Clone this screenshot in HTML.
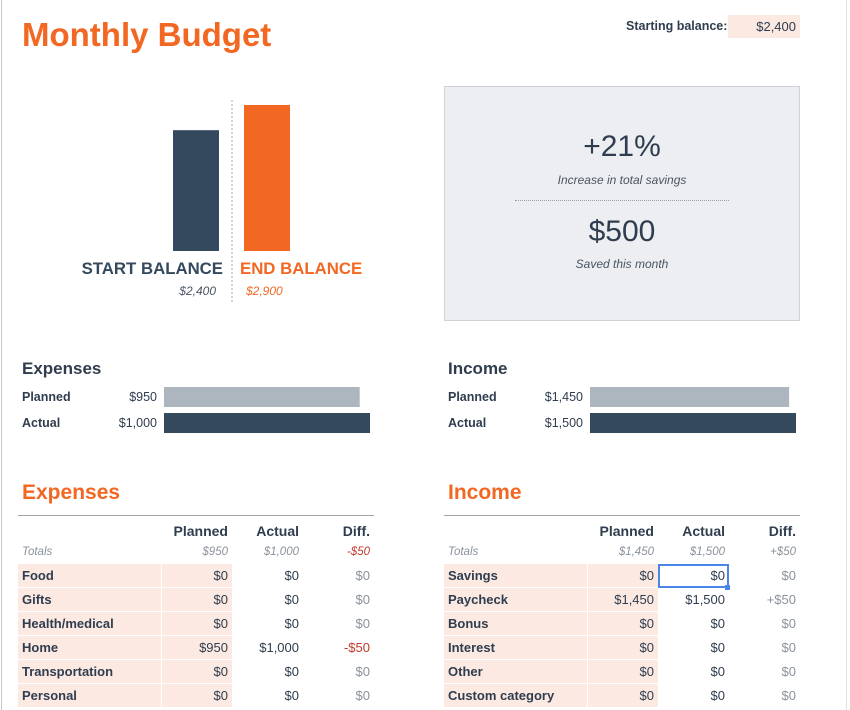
<!DOCTYPE html>
<html><head><meta charset="utf-8"><style>
body{margin:0;width:850px;height:710px;overflow:hidden;background:#fff;font-family:"Liberation Sans",sans-serif;color:#2f3d4e;position:relative}
.a{position:absolute;white-space:nowrap}
.b{font-weight:bold}
.i{font-style:italic}
table{position:absolute;border-collapse:collapse;font-size:13px;table-layout:fixed}
td{height:23px;padding:0 4px;border-bottom:1px solid #fff}
.pk{background:#fbe9e2}
.r{text-align:right}
.g{color:#8a929b}
.red{color:#c0392b}
</style></head><body>
<div class="a" style="left:1px;top:0;width:1px;height:710px;background:#c8c8c8"></div>
<div class="a" style="left:846px;top:0;width:1px;height:710px;background:#e2e2e2"></div>
<div class="a b" style="left:22px;top:16px;font-size:33px;color:#f26722">Monthly Budget</div>
<div class="a b" style="left:626px;top:19px;font-size:12.5px">Starting balance:</div>
<div class="a" style="left:728px;top:15px;width:68px;height:23px;background:#fbe9e2;font-size:13px;text-align:right;line-height:23px;padding-right:4px">$2,400</div>

<svg class="a" style="left:0;top:0" width="440" height="320" id="bal"></svg>

<div class="a" style="left:444px;top:86px;width:354px;height:233px;background:#eceef1;border:1px solid #cfd2d6"></div>
<div class="a" style="left:444px;width:356px;text-align:center;top:130px;font-size:30px">+21%</div>
<div class="a i" style="left:444px;width:356px;text-align:center;top:173px;font-size:12px;color:#4a5563">Increase in total savings</div>
<div class="a" style="left:515px;top:200px;width:214px;border-top:1px dotted #9aa0a7"></div>
<div class="a" style="left:444px;width:356px;text-align:center;top:215px;font-size:30px">$500</div>
<div class="a i" style="left:444px;width:356px;text-align:center;top:257px;font-size:12px;color:#4a5563">Saved this month</div>

<svg class="a" style="left:0;top:350px" width="850" height="100" id="cmp"></svg>

<div class="a b" style="left:22px;top:481px;font-size:21px;color:#f26722">Expenses</div>
<div class="a b" style="left:448px;top:481px;font-size:21px;color:#f26722">Income</div>

<table style="left:18px;top:515px;width:356px;border-top:1px solid #a0a4aa">
<colgroup><col style="width:143px"><col style="width:71px"><col style="width:71px"><col style="width:71px"></colgroup>
<tr style="height:23px"><td></td><td class="r b" style="font-size:14px;vertical-align:bottom">Planned</td><td class="r b" style="font-size:14px;vertical-align:bottom">Actual</td><td class="r b" style="font-size:14px;vertical-align:bottom">Diff.</td></tr>
<tr style="border-bottom:1px solid #a0a4aa"><td class="i g" style="font-size:11.5px">Totals</td><td class="r i g" style="font-size:11.5px">$950</td><td class="r i g" style="font-size:11.5px">$1,000</td><td class="r i red" style="font-size:11.5px">-$50</td></tr>
<tr><td class="pk b" style="border-right:1px solid #fff">Food</td><td class="pk r">$0</td><td class="r">$0</td><td class="r g">$0</td></tr>
<tr><td class="pk b" style="border-right:1px solid #fff">Gifts</td><td class="pk r">$0</td><td class="r">$0</td><td class="r g">$0</td></tr>
<tr><td class="pk b" style="border-right:1px solid #fff">Health/medical</td><td class="pk r">$0</td><td class="r">$0</td><td class="r g">$0</td></tr>
<tr><td class="pk b" style="border-right:1px solid #fff">Home</td><td class="pk r">$950</td><td class="r">$1,000</td><td class="r red">-$50</td></tr>
<tr><td class="pk b" style="border-right:1px solid #fff">Transportation</td><td class="pk r">$0</td><td class="r">$0</td><td class="r g">$0</td></tr>
<tr><td class="pk b" style="border-right:1px solid #fff">Personal</td><td class="pk r">$0</td><td class="r">$0</td><td class="r g">$0</td></tr>
</table>

<table style="left:444px;top:515px;width:356px;border-top:1px solid #a0a4aa">
<colgroup><col style="width:143px"><col style="width:71px"><col style="width:71px"><col style="width:71px"></colgroup>
<tr style="height:23px"><td></td><td class="r b" style="font-size:14px;vertical-align:bottom">Planned</td><td class="r b" style="font-size:14px;vertical-align:bottom">Actual</td><td class="r b" style="font-size:14px;vertical-align:bottom">Diff.</td></tr>
<tr style="border-bottom:1px solid #a0a4aa"><td class="i g" style="font-size:11.5px">Totals</td><td class="r i g" style="font-size:11.5px">$1,450</td><td class="r i g" style="font-size:11.5px">$1,500</td><td class="r i g" style="font-size:11.5px">+$50</td></tr>
<tr><td class="pk b" style="border-right:1px solid #fff">Savings</td><td class="pk r">$0</td><td class="r" style="outline:2px solid #4a86e8;outline-offset:-2px">$0</td><td class="r g">$0</td></tr>
<tr><td class="pk b" style="border-right:1px solid #fff">Paycheck</td><td class="pk r">$1,450</td><td class="r">$1,500</td><td class="r g">+$50</td></tr>
<tr><td class="pk b" style="border-right:1px solid #fff">Bonus</td><td class="pk r">$0</td><td class="r">$0</td><td class="r g">$0</td></tr>
<tr><td class="pk b" style="border-right:1px solid #fff">Interest</td><td class="pk r">$0</td><td class="r">$0</td><td class="r g">$0</td></tr>
<tr><td class="pk b" style="border-right:1px solid #fff">Other</td><td class="pk r">$0</td><td class="r">$0</td><td class="r g">$0</td></tr>
<tr><td class="pk b" style="border-right:1px solid #fff">Custom category</td><td class="pk r">$0</td><td class="r">$0</td><td class="r g">$0</td></tr>
</table>
<div class="a" style="left:725px;top:585px;width:5px;height:5px;background:#4a86e8"></div>

<script>
const balanceLabels=["START BALANCE","END BALANCE"];
const balanceValues=[2400,2900];
const expenseLabels=["Planned","Actual"];
const expenseValues=[950,1000];
const incomeLabels=["Planned","Actual"];
const incomeValues=[1450,1500];

const NS="http://www.w3.org/2000/svg";
function mk(parent,tag,attrs,text){const e=document.createElementNS(NS,tag);for(const k in attrs)e.setAttribute(k,attrs[k]);if(text!==undefined)e.textContent=text;parent.appendChild(e);return e;}
function fmt(v){return "$"+v.toLocaleString("en-US");}

const bal=document.getElementById("bal");
const bMax=Math.max(...balanceValues);
const yB=v=>251-v*146/bMax;
const cols=["#34495e","#f26722"];
const dl=mk(bal,"line",{x1:232,y1:100,x2:232,y2:303,stroke:"#aaa","stroke-dasharray":"2,2"});


balanceValues.forEach((v,i)=>{
  const x=i===0?173:244;
  const r=mk(bal,"rect",{x:x,y:yB(v),width:46,height:251-yB(v),fill:cols[i]});
  
  
  const t=mk(bal,"text",{x:i===0?223:240,y:274,"text-anchor":i===0?"end":"start","font-size":16.8,"font-weight":"bold",fill:cols[i]},balanceLabels[i]);
  
  
  const vt=mk(bal,"text",{x:i===0?216:246,y:295,"text-anchor":i===0?"end":"start","font-size":12,"font-style":"italic",fill:i===0?"#4a5563":"#f26722"},fmt(v));
  
  
});

const cmp=document.getElementById("cmp");
function group(x0,title,labels,vals,valRight,barX){
  const h=mk(cmp,"text",{x:x0,y:24,"font-size":17,"font-weight":"bold",fill:"#2f3d4e"},title);
  
  
  const m=Math.max(...vals);
  const sx=v=>v*206/m;
  vals.forEach((v,i)=>{
    const y=37+i*26;
    const l=mk(cmp,"text",{x:x0,y:y+14,"font-size":12.5,"font-weight":"bold",fill:"#2f3d4e"},labels[i]);
    
    
    const vt=mk(cmp,"text",{x:valRight,y:y+14,"font-size":12.5,"text-anchor":"end",fill:"#2f3d4e"},fmt(v));
    
    
    const r=mk(cmp,"rect",{x:barX,y:y,width:sx(v),height:20,fill:i===0?"#adb5bf":"#34495e"});
    
    
  });
}
group(22,"Expenses",expenseLabels,expenseValues,157,164);
group(448,"Income",incomeLabels,incomeValues,583,590);
</script>
</body></html>
